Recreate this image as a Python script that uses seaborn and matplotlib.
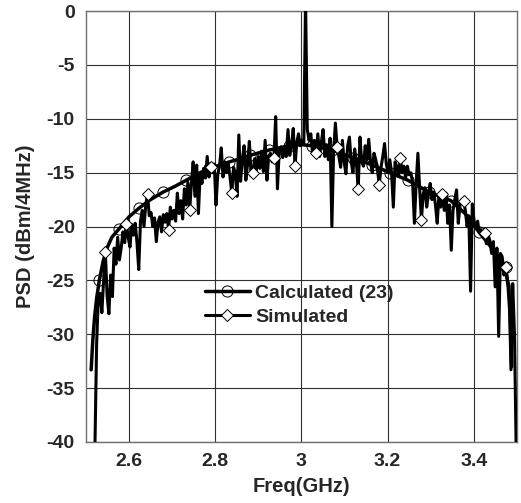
import numpy as np
import pandas as pd
import seaborn as sns
import matplotlib.pyplot as plt

# Calculated (23) - curva suave
calc_freq = [2.512, 2.516, 2.520, 2.525, 2.531, 2.540, 2.550, 2.560, 2.577, 2.600,
             2.623, 2.650, 2.679, 2.705, 2.733, 2.760, 2.786, 2.810, 2.833, 2.858,
             2.880, 2.925, 2.972, 3.000, 3.025, 3.072, 3.119, 3.165, 3.205, 3.247,
             3.296, 3.347, 3.380, 3.412, 3.440, 3.460, 3.474, 3.480, 3.484, 3.488]
calc_psd = [-33.3, -30.5, -28.4, -26.6, -25.0, -23.2, -21.9, -21.0, -20.2, -19.1,
            -18.3, -17.5, -16.8, -16.3, -15.7, -15.1, -14.6, -14.3, -14.0, -13.7,
            -13.4, -12.9, -12.5, -12.4, -12.5, -12.9, -13.6, -14.3, -15.0, -15.7,
            -16.8, -17.6, -18.8, -20.5, -21.9, -23.0, -23.8, -25.6, -28.0, -33.0]
calc_marker_freq = [2.531, 2.577, 2.623, 2.679, 2.733, 2.786, 2.833, 2.880, 2.925, 2.972,
                    3.025, 3.072, 3.119, 3.165, 3.205, 3.247, 3.296, 3.347, 3.412, 3.474]

# Simulated - bins de ~4 MHz
sim_freq = np.linspace(2.5206, 3.4986, 241)
sim_psd = [
    -41.0, -31.0, -26.5, -26.2, -28.0, -25.0, -22.4, -26.5, -28.1, -24.5,
    -26.5, -22.0, -23.5, -21.0, -23.1, -22.0, -20.5, -21.5, -19.8, -21.0,
    -21.9, -19.8, -20.8, -19.7, -21.5, -24.0, -19.5, -18.5, -20.0, -18.0,
    -17.0, -19.0, -18.7, -20.0, -19.2, -21.4, -19.6, -19.1, -20.5, -18.9,
    -19.6, -18.8, -20.3, -18.2, -19.3, -18.5, -19.5, -16.9, -18.8, -17.6,
    -19.3, -16.5, -18.0, -15.9, -18.5, -16.0, -14.0, -17.2, -14.3, -18.8,
    -15.0, -16.0, -14.6, -15.5, -13.5, -15.4, -14.5, -15.0, -14.2, -18.0,
    -15.2, -14.4, -12.7, -15.4, -14.0, -15.0, -14.2, -15.4, -16.9, -14.5,
    -15.0, -17.2, -11.5, -15.8, -13.8, -12.5, -15.7, -14.2, -12.1, -15.3,
    -15.0, -13.7, -14.8, -13.5, -14.6, -13.0, -14.9, -12.0, -15.7, -13.5,
    -13.2, -14.0, -13.6, -9.8, -16.5, -13.0, -12.6, -13.6, -12.8, -13.5,
    -11.0, -13.4, -12.5, -10.9, -14.4, -12.2, -11.4, -12.5, -12.0, -12.3,
    1.0, -11.0, -12.0, -11.4, -13.2, -12.0, -13.2, -11.4, -13.5, -12.2,
    -11.0, -13.5, -12.4, -13.8, -11.8, -20.0, -13.0, -10.4, -12.6, -13.5,
    -14.5, -12.0, -14.0, -15.1, -12.5, -11.7, -14.0, -15.0, -12.8, -14.2,
    -16.5, -11.7, -14.0, -14.4, -12.5, -13.8, -11.9, -14.0, -15.0, -13.2,
    -13.8, -14.8, -16.1, -14.5, -13.5, -12.3, -14.2, -15.0, -13.8, -15.0,
    -18.2, -14.0, -14.4, -15.3, -13.6, -15.0, -14.4, -15.5, -14.4, -15.2,
    -15.0, -16.0, -19.7, -16.0, -13.2, -16.5, -19.4, -17.0, -16.4, -18.2,
    -17.0, -16.0, -17.5, -16.8, -18.0, -19.7, -17.0, -18.2, -17.0, -18.5,
    -16.9, -19.7, -18.0, -22.2, -18.5, -17.5, -16.6, -19.7, -18.0, -17.5,
    -17.6, -18.5, -20.0, -19.0, -26.0, -17.9, -19.5, -20.2, -19.5, -20.6,
    -20.3, -21.0, -20.6, -21.6, -20.8, -21.3, -22.5, -21.4, -25.6, -22.0,
    -30.2, -22.5, -22.8, -24.5, -23.8, -25.0, -25.5, -33.3, -25.3, -30.0,
    -41.0]

x_ticks = [2.6, 2.8, 3.0, 3.2, 3.4]
x_tick_labels = ['2.6', '2.8', '3', '3.2', '3.4']
y_ticks = [0, -5, -10, -15, -20, -25, -30, -35, -40]

df_calc = pd.DataFrame({'freq': calc_freq, 'psd': calc_psd})
df_sim = pd.DataFrame({'freq': sim_freq, 'psd': sim_psd})
calc_marks = [calc_freq.index(f) for f in calc_marker_freq]

sns.set_style('white')
plt.rcParams['font.family'] = ['Liberation Sans', 'DejaVu Sans']
plt.rcParams['axes.unicode_minus'] = False

fig = plt.figure(figsize=(5.21, 5.03), dpi=100)
ax = fig.add_axes([0.165, 0.1213, 0.827, 0.8567])

sns.lineplot(data=df_calc, x='freq', y='psd', ax=ax, color='black', linewidth=2.5,
             marker='o', markersize=8, markerfacecolor='none', markeredgecolor='black',
             markeredgewidth=0.7, markevery=calc_marks, label='Calculated (23)', zorder=3)
sns.lineplot(data=df_sim, x='freq', y='psd', ax=ax, color='black', linewidth=2.2,
             marker='D', markersize=6.5, markerfacecolor='white', markeredgecolor='black',
             markeredgewidth=0.7, markevery=(6, 12), label='Simulated', zorder=4)

ax.set_xlim(2.5, 3.5)
ax.set_ylim(-40, 0)
ax.set_xticks(x_ticks)
ax.set_xticklabels(x_tick_labels)
ax.set_yticks(y_ticks)
ax.set_yticklabels([str(v) for v in y_ticks])
ax.tick_params(length=0, labelsize=14)
ax.tick_params(axis='y', pad=8)
ax.tick_params(axis='x', pad=8)
for lab in ax.get_xticklabels() + ax.get_yticklabels():
    lab.set_fontweight('bold')

ax.grid(True, color='#303030', linewidth=0.8)
ax.set_axisbelow(True)
for sp in ax.spines.values():
    sp.set_color('#707070')
    sp.set_linewidth(1.0)

ax.set_xlabel('Freq(GHz)', fontsize=14.5, fontweight='bold', labelpad=5)
ax.set_ylabel('PSD (dBm/4MHz)', fontsize=14.5, fontweight='bold', labelpad=8)

ax.legend(loc='center left', bbox_to_anchor=(0.276, 0.318), frameon=False,
          prop={'weight': 'bold', 'size': 14}, handlelength=2.3,
          handletextpad=0.3, labelspacing=0.35, borderpad=0, borderaxespad=0)

plt.savefig('out.png', dpi=100)
plt.close()
